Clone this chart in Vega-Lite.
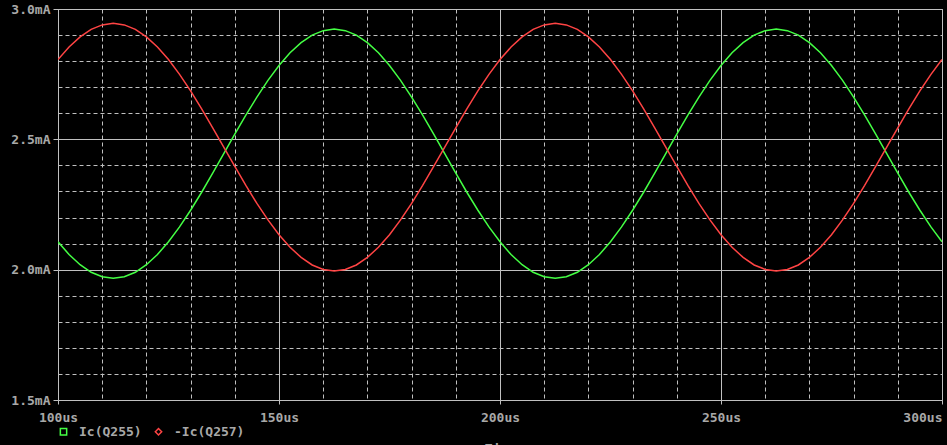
{
  "$schema": "https://vega.github.io/schema/vega-lite/v6.json",
  "width": 884,
  "height": 391,
  "autosize": {"type": "none"},
  "padding": {"left": 58, "top": 9, "right": 5, "bottom": 45},
  "background": "#000000",
  "config": {"view": {"stroke": "#c0c0c0", "strokeWidth": 1}, "font": "DejaVu Sans Mono"},
  "data": {"values": [
    {"t": 100, "Ic(Q255)": 2.107, "-Ic(Q257)": 2.806},
    {"t": 102.5, "Ic(Q255)": 2.058, "-Ic(Q257)": 2.854},
    {"t": 105, "Ic(Q255)": 2.019, "-Ic(Q257)": 2.893},
    {"t": 107.5, "Ic(Q255)": 1.990, "-Ic(Q257)": 2.922},
    {"t": 110, "Ic(Q255)": 1.973, "-Ic(Q257)": 2.939},
    {"t": 112.5, "Ic(Q255)": 1.967, "-Ic(Q257)": 2.945},
    {"t": 115, "Ic(Q255)": 1.973, "-Ic(Q257)": 2.939},
    {"t": 117.5, "Ic(Q255)": 1.990, "-Ic(Q257)": 2.922},
    {"t": 120, "Ic(Q255)": 2.019, "-Ic(Q257)": 2.893},
    {"t": 122.5, "Ic(Q255)": 2.058, "-Ic(Q257)": 2.854},
    {"t": 125, "Ic(Q255)": 2.107, "-Ic(Q257)": 2.806},
    {"t": 127.5, "Ic(Q255)": 2.164, "-Ic(Q257)": 2.749},
    {"t": 130, "Ic(Q255)": 2.228, "-Ic(Q257)": 2.686},
    {"t": 132.5, "Ic(Q255)": 2.297, "-Ic(Q257)": 2.617},
    {"t": 135, "Ic(Q255)": 2.370, "-Ic(Q257)": 2.544},
    {"t": 137.5, "Ic(Q255)": 2.445, "-Ic(Q257)": 2.470},
    {"t": 140, "Ic(Q255)": 2.520, "-Ic(Q257)": 2.396},
    {"t": 142.5, "Ic(Q255)": 2.593, "-Ic(Q257)": 2.323},
    {"t": 145, "Ic(Q255)": 2.662, "-Ic(Q257)": 2.254},
    {"t": 147.5, "Ic(Q255)": 2.726, "-Ic(Q257)": 2.191},
    {"t": 150, "Ic(Q255)": 2.783, "-Ic(Q257)": 2.134},
    {"t": 152.5, "Ic(Q255)": 2.832, "-Ic(Q257)": 2.086},
    {"t": 155, "Ic(Q255)": 2.871, "-Ic(Q257)": 2.047},
    {"t": 157.5, "Ic(Q255)": 2.900, "-Ic(Q257)": 2.018},
    {"t": 160, "Ic(Q255)": 2.917, "-Ic(Q257)": 2.001},
    {"t": 162.5, "Ic(Q255)": 2.923, "-Ic(Q257)": 1.995},
    {"t": 165, "Ic(Q255)": 2.917, "-Ic(Q257)": 2.001},
    {"t": 167.5, "Ic(Q255)": 2.900, "-Ic(Q257)": 2.018},
    {"t": 170, "Ic(Q255)": 2.871, "-Ic(Q257)": 2.047},
    {"t": 172.5, "Ic(Q255)": 2.832, "-Ic(Q257)": 2.086},
    {"t": 175, "Ic(Q255)": 2.783, "-Ic(Q257)": 2.134},
    {"t": 177.5, "Ic(Q255)": 2.726, "-Ic(Q257)": 2.191},
    {"t": 180, "Ic(Q255)": 2.662, "-Ic(Q257)": 2.254},
    {"t": 182.5, "Ic(Q255)": 2.593, "-Ic(Q257)": 2.323},
    {"t": 185, "Ic(Q255)": 2.520, "-Ic(Q257)": 2.396},
    {"t": 187.5, "Ic(Q255)": 2.445, "-Ic(Q257)": 2.470},
    {"t": 190, "Ic(Q255)": 2.370, "-Ic(Q257)": 2.544},
    {"t": 192.5, "Ic(Q255)": 2.297, "-Ic(Q257)": 2.617},
    {"t": 195, "Ic(Q255)": 2.228, "-Ic(Q257)": 2.686},
    {"t": 197.5, "Ic(Q255)": 2.164, "-Ic(Q257)": 2.749},
    {"t": 200, "Ic(Q255)": 2.107, "-Ic(Q257)": 2.806},
    {"t": 202.5, "Ic(Q255)": 2.058, "-Ic(Q257)": 2.854},
    {"t": 205, "Ic(Q255)": 2.019, "-Ic(Q257)": 2.893},
    {"t": 207.5, "Ic(Q255)": 1.990, "-Ic(Q257)": 2.922},
    {"t": 210, "Ic(Q255)": 1.973, "-Ic(Q257)": 2.939},
    {"t": 212.5, "Ic(Q255)": 1.967, "-Ic(Q257)": 2.945},
    {"t": 215, "Ic(Q255)": 1.973, "-Ic(Q257)": 2.939},
    {"t": 217.5, "Ic(Q255)": 1.990, "-Ic(Q257)": 2.922},
    {"t": 220, "Ic(Q255)": 2.019, "-Ic(Q257)": 2.893},
    {"t": 222.5, "Ic(Q255)": 2.058, "-Ic(Q257)": 2.854},
    {"t": 225, "Ic(Q255)": 2.107, "-Ic(Q257)": 2.806},
    {"t": 227.5, "Ic(Q255)": 2.164, "-Ic(Q257)": 2.749},
    {"t": 230, "Ic(Q255)": 2.228, "-Ic(Q257)": 2.686},
    {"t": 232.5, "Ic(Q255)": 2.297, "-Ic(Q257)": 2.617},
    {"t": 235, "Ic(Q255)": 2.370, "-Ic(Q257)": 2.544},
    {"t": 237.5, "Ic(Q255)": 2.445, "-Ic(Q257)": 2.470},
    {"t": 240, "Ic(Q255)": 2.520, "-Ic(Q257)": 2.396},
    {"t": 242.5, "Ic(Q255)": 2.593, "-Ic(Q257)": 2.323},
    {"t": 245, "Ic(Q255)": 2.662, "-Ic(Q257)": 2.254},
    {"t": 247.5, "Ic(Q255)": 2.726, "-Ic(Q257)": 2.191},
    {"t": 250, "Ic(Q255)": 2.783, "-Ic(Q257)": 2.134},
    {"t": 252.5, "Ic(Q255)": 2.832, "-Ic(Q257)": 2.086},
    {"t": 255, "Ic(Q255)": 2.871, "-Ic(Q257)": 2.047},
    {"t": 257.5, "Ic(Q255)": 2.900, "-Ic(Q257)": 2.018},
    {"t": 260, "Ic(Q255)": 2.917, "-Ic(Q257)": 2.001},
    {"t": 262.5, "Ic(Q255)": 2.923, "-Ic(Q257)": 1.995},
    {"t": 265, "Ic(Q255)": 2.917, "-Ic(Q257)": 2.001},
    {"t": 267.5, "Ic(Q255)": 2.900, "-Ic(Q257)": 2.018},
    {"t": 270, "Ic(Q255)": 2.871, "-Ic(Q257)": 2.047},
    {"t": 272.5, "Ic(Q255)": 2.832, "-Ic(Q257)": 2.086},
    {"t": 275, "Ic(Q255)": 2.783, "-Ic(Q257)": 2.134},
    {"t": 277.5, "Ic(Q255)": 2.726, "-Ic(Q257)": 2.191},
    {"t": 280, "Ic(Q255)": 2.662, "-Ic(Q257)": 2.254},
    {"t": 282.5, "Ic(Q255)": 2.593, "-Ic(Q257)": 2.323},
    {"t": 285, "Ic(Q255)": 2.520, "-Ic(Q257)": 2.396},
    {"t": 287.5, "Ic(Q255)": 2.445, "-Ic(Q257)": 2.470},
    {"t": 290, "Ic(Q255)": 2.370, "-Ic(Q257)": 2.544},
    {"t": 292.5, "Ic(Q255)": 2.297, "-Ic(Q257)": 2.617},
    {"t": 295, "Ic(Q255)": 2.228, "-Ic(Q257)": 2.686},
    {"t": 297.5, "Ic(Q255)": 2.164, "-Ic(Q257)": 2.749},
    {"t": 300, "Ic(Q255)": 2.107, "-Ic(Q257)": 2.806}
  ]},
  "transform": [{"fold": ["Ic(Q255)", "-Ic(Q257)"], "as": ["series", "value"]}],
  "mark": {"type": "line", "strokeWidth": 1.5, "clip": true},
  "encoding": {
    "x": {
      "field": "t", "type": "quantitative",
      "scale": {"domain": [100, 300], "nice": false, "zero": false},
      "axis": {
        "values": [100,110,120,130,140,150,160,170,180,190,200,210,220,230,240,250,260,270,280,290,300],
        "labelExpr": "datum.value % 50 === 0 ? datum.value + 'us' : ''",
        "labelAlign": {"condition": {"test": "datum.value === 300", "value": "right"}, "value": "center"},
        "labelColor": "#a8a8a8", "labelFont": "DejaVu Sans Mono", "labelFontSize": 13, "labelFontWeight": "bold",
        "labelPadding": 7, "labelFlush": false, "labelOverlap": false, "labelBound": false,
        "domainColor": "#c0c0c0", "tickColor": "#c0c0c0", "tickSize": 4,
        "tickOpacity": {"condition": {"test": "datum.value % 50 === 0", "value": 1}, "value": 0},
        "grid": true, "gridColor": "#c0c0c0", "gridOpacity": 1, "gridWidth": 1,
        "gridDash": {"condition": {"test": "datum.value % 50 === 0", "value": []}, "value": [4, 3]},
        "title": "Time", "titleColor": "#a8a8a8", "titleFont": "DejaVu Sans Mono", "titleFontSize": 13, "titleFontWeight": "bold",
        "titleBaseline": "top", "titleY": 42
      }
    },
    "y": {
      "field": "value", "type": "quantitative",
      "scale": {"domain": [1.5, 3.0], "nice": false, "zero": false},
      "axis": {
        "values": [1.5,1.6,1.7,1.8,1.9,2.0,2.1,2.2,2.3,2.4,2.5,2.6,2.7,2.8,2.9,3.0],
        "labelExpr": "abs(datum.value*2 - round(datum.value*2)) < 0.01 ? format(datum.value, '.1f') + 'mA' : ''",
        "labelColor": "#a8a8a8", "labelFont": "DejaVu Sans Mono", "labelFontSize": 13, "labelFontWeight": "bold",
        "labelPadding": 3, "labelFlush": false, "labelOverlap": false, "labelBound": false,
        "domainColor": "#c0c0c0", "tickColor": "#c0c0c0", "tickSize": 5,
        "tickOpacity": {"condition": {"test": "abs(datum.value*2 - round(datum.value*2)) < 0.01", "value": 1}, "value": 0},
        "grid": true, "gridColor": "#c0c0c0", "gridOpacity": 1, "gridWidth": 1,
        "gridDash": {"condition": {"test": "abs(datum.value*2 - round(datum.value*2)) < 0.01", "value": []}, "value": [4, 3]},
        "title": null
      }
    },
    "color": {
      "field": "series", "type": "nominal",
      "scale": {"domain": ["Ic(Q255)", "-Ic(Q257)"], "range": ["#44ff44", "#ff4444"]},
      "legend": {
        "title": null, "orient": "none", "direction": "horizontal", "legendX": -1, "legendY": 416,
        "symbolType": "square", "symbolSize": 40, "symbolStrokeWidth": 1.5, "symbolFillColor": "transparent",
        "labelColor": "#a8a8a8", "labelFont": "DejaVu Sans Mono", "labelFontSize": 13, "labelFontWeight": "bold",
        "labelOffset": 9, "columnPadding": 10,
        "encoding": {"symbols": {
          "shape": {"condition": {"test": "datum.value === '-Ic(Q257)'", "value": "diamond"}, "value": "square"},
          "fill": {"value": "transparent"}
        }}
      }
    }
  }
}
